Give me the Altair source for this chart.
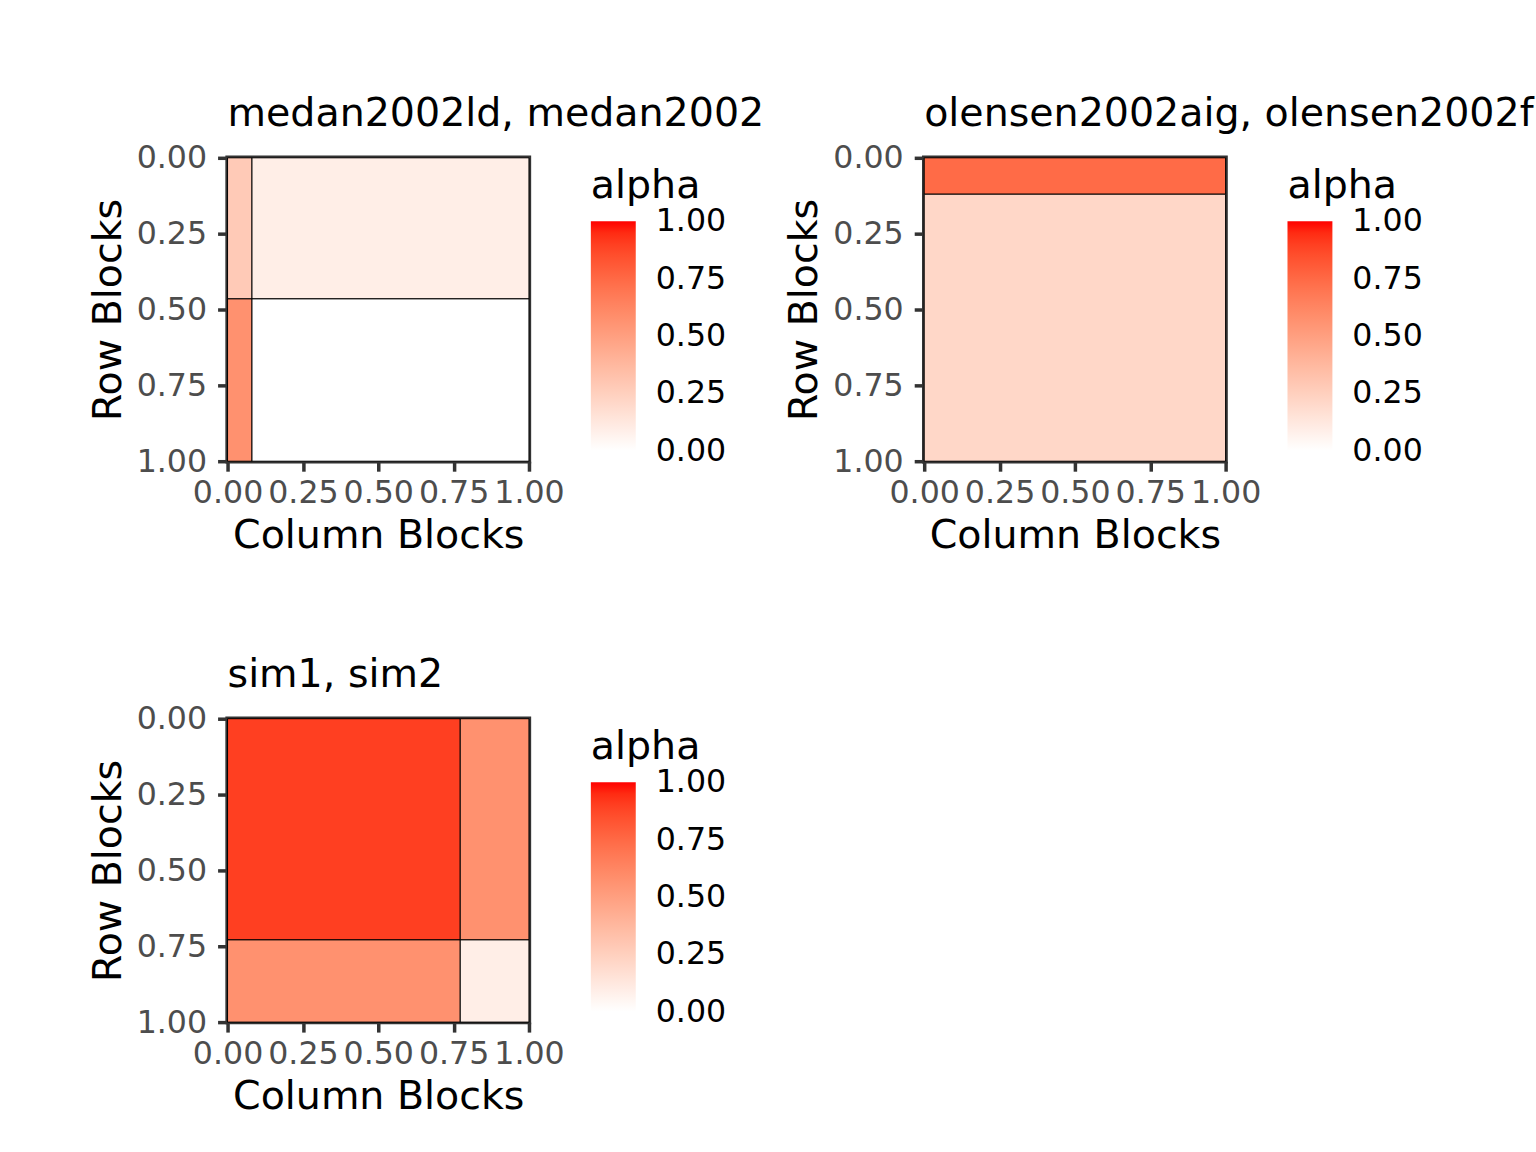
import altair as alt
import pandas as pd

# ---- data ----
titles = ["medan2002ld, medan2002", "olensen2002aig, olensen2002f", "sim1, sim2"]
col_breaks = [[0.0, 0.081, 1.0], [0.0, 1.0], [0.0, 0.772, 1.0]]
row_breaks = [[0.0, 0.465, 1.0], [0.0, 0.12, 1.0], [0.0, 0.729, 1.0]]
# alpha[row][col]
alphas = [
    [[0.28, 0.09], [0.57, 0.00]],
    [[0.74], [0.21]],
    [[0.90, 0.57], [0.57, 0.09]],
]
ticks = [0.0, 0.25, 0.5, 0.75, 1.0]

FONT = "DejaVu Sans"
TITLE_SIZE = 39.6
LABEL_SIZE = 31.7


def panel_df(i):
    rows = []
    cb, rb = col_breaks[i], row_breaks[i]
    for r in range(len(rb) - 1):
        for c in range(len(cb) - 1):
            rows.append({"x": cb[c], "x2": cb[c + 1], "y": rb[r], "y2": rb[r + 1],
                         "alpha": alphas[i][r][c]})
    return pd.DataFrame(rows)


def panel(i):
    df = panel_df(i)
    return alt.Chart(
        df,
        title=alt.TitleParams(titles[i], anchor="start", frame="group", font=FONT,
                              fontSize=TITLE_SIZE, fontWeight="normal", color="black",
                              baseline="alphabetic", offset=31, dy=54),
    ).mark_rect(stroke="black", strokeWidth=1).encode(
        x=alt.X("x:Q", scale=alt.Scale(domain=[0, 1], nice=False, zero=False),
                axis=alt.Axis(title="Column Blocks", values=ticks, format=".2f",
                              labelFlush=False, labelOverlap=False,
                              labelPadding=6, titlePadding=8)),
        x2="x2:Q",
        y=alt.Y("y:Q", scale=alt.Scale(domain=[0, 1], nice=False, zero=False, reverse=True),
                axis=alt.Axis(title="Row Blocks", values=ticks, format=".2f",
                              labelFlush=False, labelOverlap=False,
                              labelPadding=11, titlePadding=8)),
        y2="y2:Q",
        color=alt.Color("alpha:Q",
                        scale=alt.Scale(domain=[-0.0005, 1.0005], range=["#FFFFFF", "#FF0000"],
                                        interpolate="lab", nice=False, zero=False),
                        legend=alt.Legend(title="alpha", values=ticks, format=".2f",
                                          orient="none", legendX=364, legendY=9,
                                          labelOffset=20, labelBaseline="middle")),
    ).properties(width=302, height=304)


chart = alt.concat(panel(0), panel(1), panel(2), columns=2,
                   spacing={"row": 258, "column": 396}, bounds="flush").resolve_scale(
    color="independent").resolve_legend(color="independent").properties(
    padding={"left": 86, "top": 91, "right": 0, "bottom": 20}
).configure_view(
    stroke="#333333", strokeWidth=4.4
).configure_axis(
    domain=False, grid=False,
    tickColor="#333333", tickWidth=3.5, tickSize=10,
    labelFont=FONT, labelFontSize=LABEL_SIZE, labelColor="#4D4D4D",
    titleFont=FONT, titleFontSize=TITLE_SIZE, titleColor="black", titleFontWeight="normal",
).configure_legend(
    padding=0, gradientLength=230, gradientThickness=45, gradientStrokeWidth=0,
    labelFont=FONT, labelFontSize=LABEL_SIZE, labelColor="black",
    labelOverlap=False,
    titleFont=FONT, titleFontSize=TITLE_SIZE, titleColor="black", titleFontWeight="normal",
    titlePadding=15,
)

chart.save("out.html", embed_options={"renderer": "svg", "actions": False})
